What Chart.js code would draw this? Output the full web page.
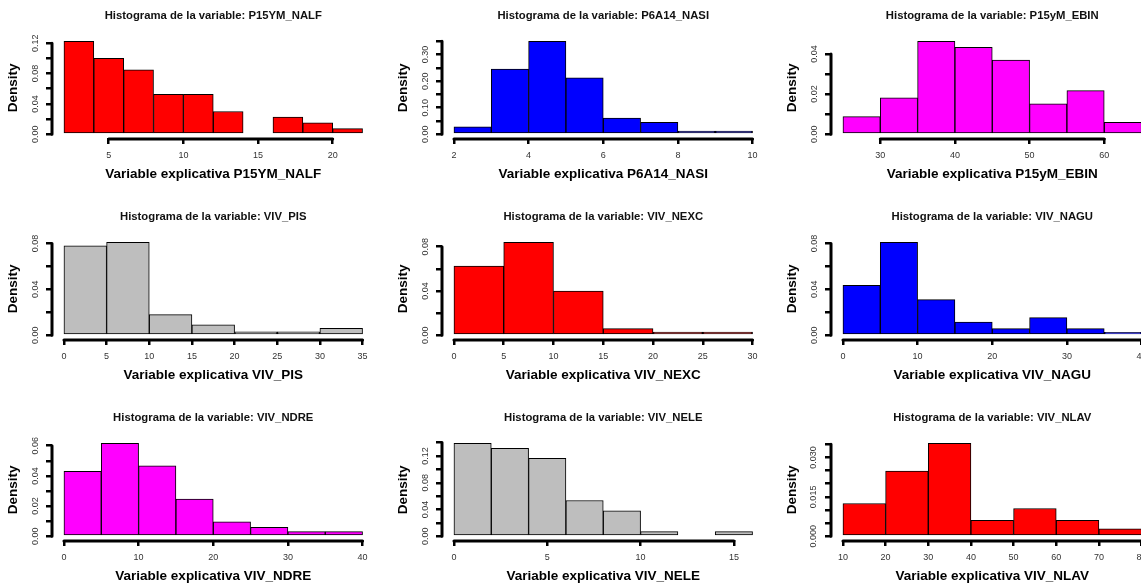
<!DOCTYPE html>
<html><head><meta charset="utf-8">
<script src="https://cdn.jsdelivr.net/npm/chart.js@4.4.0/dist/chart.umd.min.js"></script>
<style>
html,body{margin:0;padding:0;background:#fff;overflow:hidden;width:1141px;height:586px;position:relative;}
.panel{position:absolute;width:390px;height:201px;}
</style></head><body>
<script>
// ---------- data ----------
const nalfBreaks = [2,4,6,8,10,12,14,16,18,20,22];
const nalfDensity = [0.1225,0.100,0.085,0.0525,0.0525,0.030,0,0.0225,0.015,0.0075];
const nalfXTicks = [5,10,15,20];
const nalfYTicks = [0,0.02,0.04,0.06,0.08,0.10,0.12];
const nalfYLabels = ['0.00','','0.04','','0.08','','0.12'];

const nasiBreaks = [2,3,4,5,6,7,8,9,10];
const nasiDensity = [0.028,0.245,0.350,0.212,0.061,0.045,0.0125,0.0125];
const nasiXTicks = [2,4,6,8,10];
const nasiYTicks = [0,0.05,0.10,0.15,0.20,0.25,0.30,0.35];
const nasiYLabels = ['0.00','','0.10','','0.20','','0.30',''];

const ebinBreaks = [25,30,35,40,45,50,55,60,65];
const ebinDensity = [0.0088,0.0182,0.0463,0.0433,0.0370,0.0152,0.0217,0.0060];
const ebinXTicks = [30,40,50,60];
const ebinYTicks = [0,0.01,0.02,0.03,0.04];
const ebinYLabels = ['0.00','','0.02','','0.04'];

const pisBreaks = [0,5,10,15,20,25,30,35];
const pisDensity = [0.078,0.081,0.018,0.009,0.003,0.003,0.006];
const pisXTicks = [0,5,10,15,20,25,30,35];
const pisYTicks = [0,0.02,0.04,0.06,0.08];
const pisYLabels = ['0.00','','0.04','','0.08'];

const nexcBreaks = [0,5,10,15,20,25,30];
const nexcDensity = [0.0625,0.084,0.040,0.006,0.003,0.003];
const nexcXTicks = [0,5,10,15,20,25,30];
const nexcYTicks = [0,0.02,0.04,0.06,0.08];
const nexcYLabels = ['0.00','','0.04','','0.08'];

const naguBreaks = [0,5,10,15,20,25,30,35,40];
const naguDensity = [0.0436,0.081,0.031,0.0116,0.0058,0.0154,0.0058,0.0026];
const naguXTicks = [0,10,20,30,40];
const naguYTicks = [0,0.02,0.04,0.06,0.08];
const naguYLabels = ['0.00','','0.04','','0.08'];

const ndreBreaks = [0,5,10,15,20,25,30,35,40];
const ndreDensity = [0.0431,0.0616,0.0466,0.0247,0.0095,0.0059,0.0031,0.0031];
const ndreXTicks = [0,10,20,30,40];
const ndreYTicks = [0,0.01,0.02,0.03,0.04,0.05,0.06];
const ndreYLabels = ['0.00','','0.02','','0.04','','0.06'];

const neleBreaks = [0,2,4,6,8,10,12,14,16];
const neleDensity = [0.139,0.1314,0.1164,0.0535,0.038,0.007,0,0.007];
const neleXTicks = [0,5,10,15];
const neleYTicks = [0,0.02,0.04,0.06,0.08,0.10,0.12,0.14];
const neleYLabels = ['0.00','','0.04','','0.08','','0.12',''];

const nlavBreaks = [10,20,30,40,50,60,70,80];
const nlavDensity = [0.01247,0.0248,0.0354,0.0061,0.01056,0.0061,0.0028];
const nlavXTicks = [10,20,30,40,50,60,70,80];
const nlavYTicks = [0,0.005,0.010,0.015,0.020,0.025,0.030,0.035];
const nlavYLabels = ['0.000','','','0.015','','','0.030',''];

const panelNames = ['P15YM_NALF','P6A14_NASI','P15yM_EBIN','VIV_PIS','VIV_NEXC','VIV_NAGU','VIV_NDRE','VIV_NELE','VIV_NLAV'];
const panelColors = ['#FF0000','#0000FF','#FF00FF','#BEBEBE','#FF0000','#0000FF','#FF00FF','#BEBEBE','#FF0000'];

const panels = [
  [nalfBreaks,nalfDensity,nalfXTicks,nalfYTicks,nalfYLabels],
  [nasiBreaks,nasiDensity,nasiXTicks,nasiYTicks,nasiYLabels],
  [ebinBreaks,ebinDensity,ebinXTicks,ebinYTicks,ebinYLabels],
  [pisBreaks,pisDensity,pisXTicks,pisYTicks,pisYLabels],
  [nexcBreaks,nexcDensity,nexcXTicks,nexcYTicks,nexcYLabels],
  [naguBreaks,naguDensity,naguXTicks,naguYTicks,naguYLabels],
  [ndreBreaks,ndreDensity,ndreXTicks,ndreYTicks,ndreYLabels],
  [neleBreaks,neleDensity,neleXTicks,neleYTicks,neleYLabels],
  [nlavBreaks,nlavDensity,nlavXTicks,nlavYTicks,nlavYLabels]
];

// ---------- layout ----------
const FONT = "'Liberation Sans', Arial, sans-serif";
Chart.defaults.font.family = FONT;
const colLeft = [0, 390, 779];
const rowTop = [0, 201, 402];
const TICK_FONT = 9;
const tl = 6;

const measure = document.createElement('canvas').getContext('2d');
measure.font = TICK_FONT + 'px ' + FONT;

const rAxisLines = {
  id: 'rAxisLines',
  afterDraw(chart) {
    const {ctx, chartArea, scales: {x, y}} = chart;
    const xt = x.ticks, yt = y.ticks;
    ctx.save();
    ctx.strokeStyle = '#000';
    ctx.lineWidth = 3;
    ctx.lineCap = 'round';
    ctx.beginPath();
    const yy = chartArea.bottom + 1;
    ctx.moveTo(x.getPixelForValue(xt[0].value), yy);
    ctx.lineTo(x.getPixelForValue(xt[xt.length - 1].value), yy);
    ctx.moveTo(chartArea.left, y.getPixelForValue(yt[0].value));
    ctx.lineTo(chartArea.left, y.getPixelForValue(yt[yt.length - 1].value));
    ctx.stroke();
    ctx.restore();
  }
};

panels.forEach((p, i) => {
  const [breaks, dens, xTicks, yTicks, yLabels] = p;
  const r = Math.floor(i / 3), c = i % 3;
  const div = document.createElement('div');
  div.className = 'panel';
  div.style.left = colLeft[c] + 'px';
  div.style.top = rowTop[r] + 'px';
  const cv = document.createElement('canvas');
  cv.width = 390; cv.height = 201;
  div.appendChild(cv);
  document.body.appendChild(div);

  const bmin = breaks[0], bmax = breaks[breaks.length - 1];
  const xr = bmax - bmin;
  const ymax = Math.max(...dens);
  const widest = Math.max(...yLabels.map(s => s ? measure.measureText(s).width : 0));
  const yPad = Math.max(0, 16.5 - tl - widest / 2);

  new Chart(cv, {
    type: 'bar',
    data: {
      datasets: [{
        data: dens.map((d, k) => ({x: (breaks[k] + breaks[k + 1]) / 2, y: d})),
        backgroundColor: panelColors[i],
        borderColor: '#000',
        borderWidth: 1,
        borderSkipped: false,
        barPercentage: 1,
        categoryPercentage: 1
      }]
    },
    options: {
      responsive: false,
      animation: false,
      devicePixelRatio: 1,
      layout: {padding: {left: 0, right: 15.5, top: 0, bottom: 0}},
      plugins: {
        legend: {display: false},
        tooltip: {enabled: false},
        title: {
          display: true,
          fullSize: false,
          text: 'Histograma de la variable: ' + panelNames[i],
          color: '#111',
          font: {size: 11.3, weight: 'bold', family: FONT, lineHeight: 1.2},
          padding: {top: 9.4, bottom: 14.6}
        }
      },
      scales: {
        x: {
          type: 'linear',
          offset: false,
          min: bmin - 0.04 * xr,
          max: bmax + 0.04 * xr,
          afterBuildTicks: (ax) => { ax.ticks = xTicks.map(v => ({value: v})); },
          afterFit: (ax) => { ax.height = 63; },
          grid: {offset: false, drawOnChartArea: false, drawTicks: true, tickLength: tl, lineWidth: 2.5, color: '#000'},
          border: {display: false},
          ticks: {
            autoSkip: false, maxRotation: 0, minRotation: 0,
            padding: 6, color: '#333',
            font: {size: TICK_FONT, family: FONT},
            callback: (v, k) => String(xTicks[k])
          },
          title: {
            display: true,
            text: 'Variable explicativa ' + panelNames[i],
            color: '#000',
            font: {size: 13.5, weight: 'bold', family: FONT, lineHeight: 1.2},
            padding: {top: 0, bottom: 18.6}
          }
        },
        y: {
          type: 'linear',
          min: -0.04 * ymax,
          max: 1.04 * ymax,
          afterBuildTicks: (ax) => { ax.ticks = yTicks.map(v => ({value: v})); },
          afterFit: (ax) => { ax.width = 52; },
          grid: {drawOnChartArea: false, drawTicks: true, tickLength: tl, lineWidth: 2.5, color: '#000'},
          border: {display: false},
          ticks: {
            autoSkip: false, minRotation: 90, maxRotation: 90,
            crossAlign: 'center',
            padding: yPad, color: '#333',
            font: {size: TICK_FONT, family: FONT},
            callback: (v, k) => yLabels[k]
          },
          title: {
            display: true,
            text: 'Density',
            color: '#000',
            font: {size: 13.5, weight: 'bold', family: FONT, lineHeight: 1.2},
            padding: {top: 5.2, bottom: 0}
          }
        }
      }
    },
    plugins: [rAxisLines]
  });
});
</script>
</body></html>
